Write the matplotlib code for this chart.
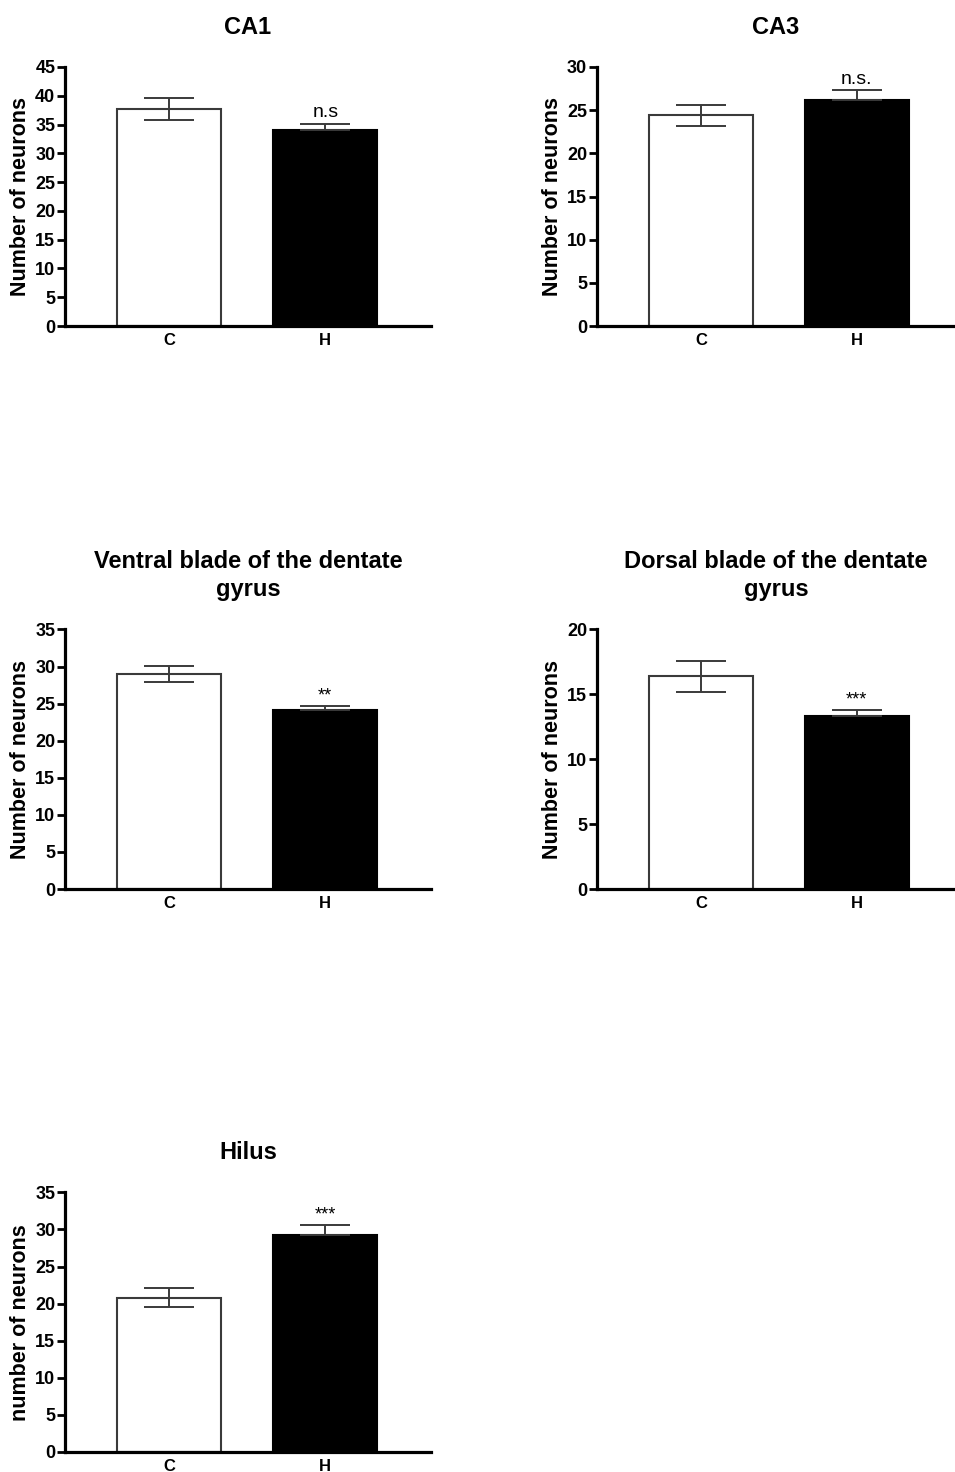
import matplotlib.pyplot as plt

plt.rcParams['font.family'] = ['Liberation Sans', 'DejaVu Sans']

# data
groups = ['C', 'H']
titles = ['CA1', 'CA3', 'Ventral blade of the dentate\ngyrus',
          'Dorsal blade of the dentate\ngyrus', 'Hilus']
ylabels = ['Number of neurons', 'Number of neurons', 'Number of neurons',
           'Number of neurons', 'number of neurons']
means_c = [37.7, 24.4, 29.0, 16.4, 20.8]
means_h = [34.0, 26.2, 24.1, 13.3, 29.3]
sem_c = [1.9, 1.2, 1.1, 1.2, 1.25]
sem_h = [1.1, 1.1, 0.55, 0.5, 1.35]
ymax = [45, 30, 35, 20, 35]
ystep = [5, 5, 5, 5, 5]
signif = ['n.s', 'n.s.', '**', '***', '***']

fig = plt.figure(figsize=(9.55, 14.72), dpi=100)

# axes positions (left, bottom, width, height) in figure fraction
positions = [
    (0.0681, 0.7785, 0.383, 0.176),
    (0.625, 0.7785, 0.375, 0.176),
    (0.0681, 0.396, 0.383, 0.1764),
    (0.625, 0.396, 0.375, 0.1764),
    (0.0681, 0.0136, 0.383, 0.1764),
]
xlims = [(-0.667, 1.676), (-0.667, 1.63), (-0.667, 1.676), (-0.667, 1.63), (-0.667, 1.676)]

err_col = '#3a3a3a'

for i in range(5):
    ax = fig.add_axes(positions[i])
    x = [0, 1]
    ax.bar(x, [means_c[i], means_h[i]], width=0.667,
           color=['white', 'black'], edgecolor=[err_col, 'black'], linewidth=1.5, zorder=2)
    ax.errorbar(0, means_c[i], yerr=sem_c[i], fmt='none', ecolor=err_col,
                elinewidth=1.4, capsize=18, capthick=1.4, zorder=3)
    ax.errorbar(1, means_h[i], yerr=[[0], [sem_h[i]]], fmt='none', ecolor=err_col,
                elinewidth=1.4, capsize=18, capthick=1.4, zorder=3)
    small = signif[i].startswith('*')
    ax.annotate(signif[i], (1, means_h[i] + sem_h[i]), xytext=(0, 1 if small else 2),
                textcoords='offset points', ha='center', va='bottom',
                fontsize=13 if small else 14)

    ax.set_xlim(*xlims[i])
    ax.set_ylim(0, ymax[i])
    ticks = list(range(0, ymax[i] + 1, ystep[i]))
    ax.set_yticks(ticks)
    ax.set_xticks(x)
    ax.set_xticklabels(groups, fontweight='bold', fontsize=12)
    for lab in ax.get_yticklabels():
        lab.set_fontweight('bold')
        lab.set_fontsize(13)
    ax.tick_params(axis='y', length=6, width=2, pad=1)
    ax.tick_params(axis='x', length=0, pad=5)
    for s in ['top', 'right']:
        ax.spines[s].set_visible(False)
    for s in ['left', 'bottom']:
        ax.spines[s].set_linewidth(2.3)
    ax.set_ylabel(ylabels[i], fontsize=15.5, fontweight='bold', labelpad=3)
    ax.set_title(titles[i], fontsize=17, fontweight='bold', pad=24, linespacing=1.3)

fig.savefig('out.png', dpi=100)
